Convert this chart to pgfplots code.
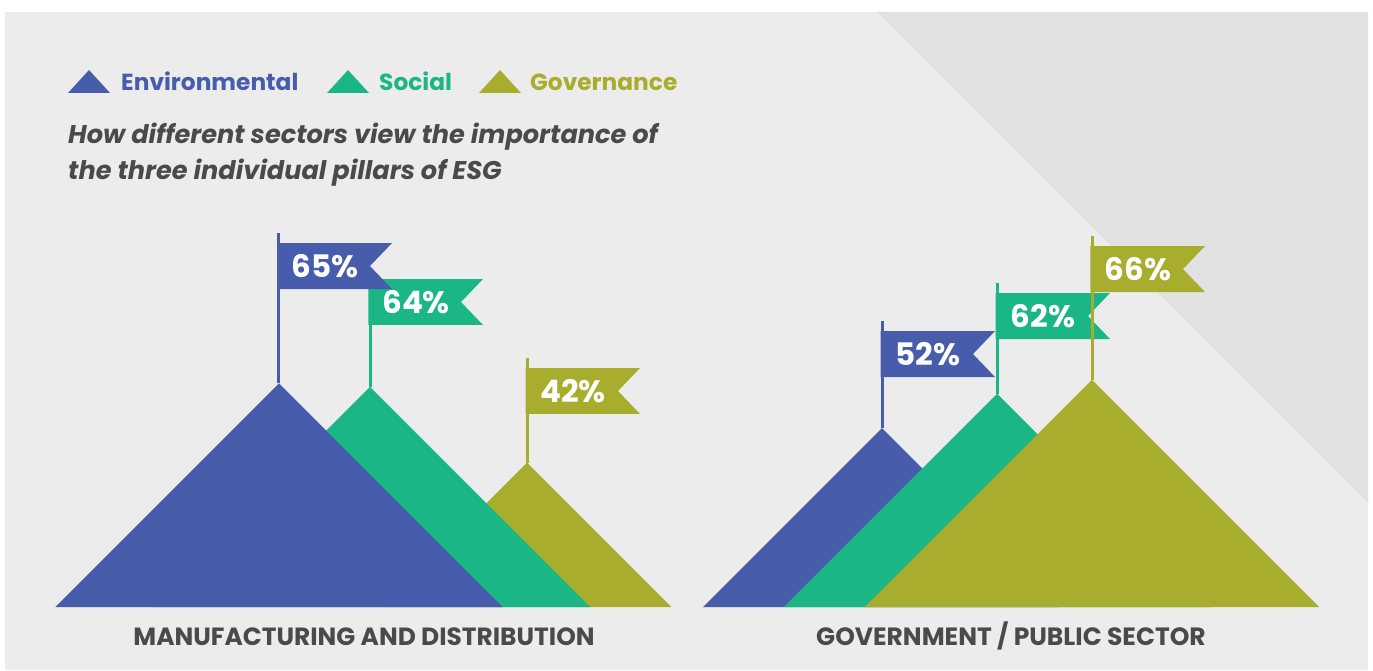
\documentclass[border=0pt]{standalone}
\usepackage{fontspec}
\setmainfont{Poppins}
\usepackage{pgfplots}
\pgfplotsset{compat=1.18}

\definecolor{envc}{HTML}{475DAB}
\definecolor{socc}{HTML}{1AB686}
\definecolor{govc}{HTML}{A9AD2D}
\definecolor{bgc}{HTML}{ECECEC}
\definecolor{bandc}{HTML}{E2E2E2}
\definecolor{txtc}{HTML}{4A4A4A}

% flag: centre, value, top of flag, colour, label (axis units, 1 unit = 1%)
\newcommand{\flag}[5]{%
  \draw[#4, line width=3pt] (axis cs:#1,#2) -- (axis cs:#1,{#3+2.91});
  \fill[#4] (axis cs:{#1-0.44},#3) -- (axis cs:{#1+32.85},#3)
    -- (axis cs:{#1+26.45},{#3-6.69}) -- (axis cs:{#1+32.85},{#3-13.37})
    -- (axis cs:{#1-0.44},{#3-13.37}) -- cycle;
  \node[text=white, inner sep=0pt, font=\bfseries\fontsize{31}{31}\selectfont]
    at (axis cs:{#1+13.4},{#3-6.69}) {#5};
}

\begin{document}
\begin{tikzpicture}
% background
\fill[white] (0,0) rectangle (1373pt,670pt);
\fill[bgc] (5pt,0) rectangle (1368pt,658pt);
\fill[bandc] (877pt,658pt) -- (1368pt,658pt) -- (1368pt,167pt) -- cycle;

\begin{axis}[
  x=3.44pt, y=3.44pt,
  xmin=0, xmax=399.13,
  ymin=-18.31, ymax=176.45,
  scale only axis,
  hide axis,
  clip=false,
]
% Manufacturing and distribution (back to front)
\addplot[fill=govc, draw=none] coordinates {(111.20,0) (153.20,42) (195.20,0)};
\addplot[fill=socc, draw=none] coordinates {(43.56,0) (107.56,64) (171.56,0)};
\addplot[fill=envc, draw=none] coordinates {(16.10,0) (81.10,65) (146.10,0)};
% Government / public sector (back to front)
\addplot[fill=envc, draw=none] coordinates {(204.40,0) (256.40,52) (308.40,0)};
\addplot[fill=socc, draw=none] coordinates {(227.83,0) (289.83,62) (351.83,0)};
\addplot[fill=govc, draw=none] coordinates {(251.44,0) (317.44,66) (383.44,0)};

\flag{153.20}{42}{69.48}{govc}{42\%}
\flag{107.56}{64}{95.35}{socc}{64\%}
\flag{81.10}{65}{105.81}{envc}{65\%}
\flag{256.40}{52}{80.23}{envc}{52\%}
\flag{289.83}{62}{91.28}{socc}{62\%}
\flag{317.44}{66}{104.94}{govc}{66\%}
\end{axis}

% texts, in pixel coordinates from the top left
\begin{scope}[x=1pt, y=-1pt, yshift=670pt]
\fill[envc] (68,93) -- (89,70) -- (110,93) -- cycle;
\fill[socc] (327,93) -- (348,70) -- (369,93) -- cycle;
\fill[govc] (479,93) -- (500,70) -- (521,93) -- cycle;
\node[anchor=base west, inner sep=0pt, text=envc, font=\bfseries\fontsize{23.3}{24}\selectfont] at (121,91) {Environmental};
\node[anchor=base west, inner sep=0pt, text=socc, font=\bfseries\fontsize{23.3}{24}\selectfont] at (379,91) {Social};
\node[anchor=base west, inner sep=0pt, text=govc, font=\bfseries\fontsize{23.3}{24}\selectfont] at (530,91) {Governance};
\node[anchor=base west, inner sep=0pt, text=txtc, font=\bfseries\itshape\fontsize{25.6}{26}\selectfont] at (68,144) {How different sectors view the importance of};
\node[anchor=base west, inner sep=0pt, text=txtc, font=\bfseries\itshape\fontsize{25.6}{26}\selectfont] at (68,180) {the three individual pillars of ESG};
\node[anchor=base, inner sep=0pt, text=txtc, font=\bfseries\fontsize{24.9}{25}\selectfont] at (364,645) {MANUFACTURING AND DISTRIBUTION};
\node[anchor=base, inner sep=0pt, text=txtc, font=\bfseries\fontsize{25}{25}\selectfont] at (1011,645) {GOVERNMENT / PUBLIC SECTOR};
\end{scope}
\end{tikzpicture}
\end{document}
